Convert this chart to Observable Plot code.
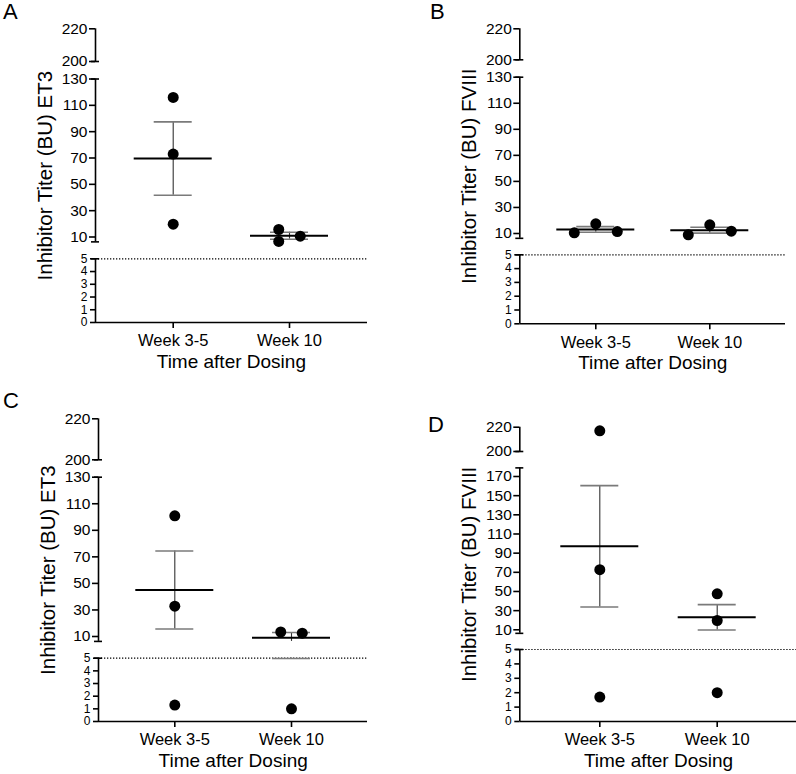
<!DOCTYPE html>
<html>
<head>
<meta charset="utf-8">
<script src="https://cdn.jsdelivr.net/npm/d3@7"></script>
<script src="https://cdn.jsdelivr.net/npm/@observablehq/plot@0.6"></script>
<style>
  body { margin: 0; background: #fff; font-family: "Liberation Sans", Arial, sans-serif; }
  #fig { position: relative; width: 796px; height: 774px; overflow: hidden; background: #fff; }
  #fig svg { position: absolute; }
  .letter { position: absolute; font-size: 22px; line-height: 1; color: #000; }
</style>
</head>
<body>
<div id="fig"></div>
<script>
// Groups on the x axis
const groups = ["Week 3-5", "Week 10"];

// Inhibitor titers (BU), one value per animal
const aEt3Wk35 = [116, 73, 19.7];
const aEt3Wk10 = [15.7, 6.6, 10.6];
const bF8Wk35 = [10.5, 17.4, 11.5];
const bF8Wk10 = [9.0, 16.7, 11.8];
const cEt3Wk35 = [100.9, 32.8, 1.3];
const cEt3Wk10 = [13.4, 12.5, 1.0];
const dF8Wk35 = [217, 72.8, 1.7];
const dF8Wk10 = [47.5, 19.7, 2.0];

// Scatter slot of each point inside its column (overlapping points side by side)
const aSlotsWk35 = [0, 0, 0];
const aSlotsWk10 = [-1, -1, 1];
const bSlotsWk35 = [-2, 0, 2];
const bSlotsWk10 = [-2, 0, 2];
const cSlotsWk35 = [0, 0, 0];
const cSlotsWk10 = [-1, 1, 0];
const dSlotsWk35 = [0, 0, 0];
const dSlotsWk10 = [0, 0, 0];

// Tick labels of the three axis segments
const ticksLow = [0, 1, 2, 3, 4, 5];
const ticksMid130 = [10, 30, 50, 70, 90, 110, 130];
const ticksMid170 = [10, 30, 50, 70, 90, 110, 130, 150, 170];
const ticksTop = [200, 220];

const xTitle = "Time after Dosing";

// Layout of each panel: page box, axis position, and pixel height of each
// broken-axis segment above the x axis
const panels = [
  { letter: "A", letterPos: [3, 1], ylabel: "Inhibitor Titer (BU) ET3",
    values: [aEt3Wk35, aEt3Wk10], slots: [aSlotsWk35, aSlotsWk10], midTicks: ticksMid130,
    box: { left: 0, top: 0, width: 398, height: 387 }, axisX: 95, rightX: 367, cat: [172.7, 289], base: 322,
    low: 63.7, mid: [85.5, 243.5], midLo: 6.3, midHi: 130, top: [261, 293.7] },
  { letter: "B", letterPos: [430, 1], ylabel: "Inhibitor Titer (BU) FVIII",
    values: [bF8Wk35, bF8Wk10], slots: [bSlotsWk35, bSlotsWk10], midTicks: ticksMid130,
    box: { left: 398, top: 0, width: 398, height: 387 }, axisX: 519.3, rightX: 785, cat: [595.3, 709.3], base: 323.3,
    low: 69, mid: [90.3, 246.6], midLo: 6.3, midHi: 130, top: [264, 295] },
  { letter: "C", letterPos: [3, 390], ylabel: "Inhibitor Titer (BU) ET3",
    values: [cEt3Wk35, cEt3Wk10], slots: [cSlotsWk35, cSlotsWk10], midTicks: ticksMid130,
    box: { left: 0, top: 387, width: 398, height: 387 }, axisX: 98, rightX: 367, cat: [174.3, 291], base: 721,
    low: 63.3, mid: [85, 244.3], midLo: 6.3, midHi: 130, top: [261.7, 302.7] },
  { letter: "D", letterPos: [428, 413.5], ylabel: "Inhibitor Titer (BU) FVIII",
    values: [dF8Wk35, dF8Wk10], slots: [dSlotsWk35, dSlotsWk10], midTicks: ticksMid170,
    box: { left: 398, top: 387, width: 398, height: 387 }, axisX: 519.3, rightX: 796, cat: [599.3, 716.7], base: 721,
    low: 72, mid: [91.7, 245], midLo: 6.3, midHi: 179, top: [270, 294.3] }
];

const slotPx = 10.75;   // horizontal step between scattered points
const meanHalf = 39;    // half width of the mean line
const capHalf = 19;     // half width of the SEM caps
const breakHalf = 4;    // half width of the marks at each axis break

const fig = document.getElementById("fig");

function drawPanel(p) {
  const [c0, c1] = p.cat;
  const unit = c1 - c0;
  const px = v => v / unit;                 // pixels -> x units
  const xa = (p.axisX - c0) / unit;         // x position of the y axis line
  const midMax = p.midTicks[p.midTicks.length - 1];
  const kMid = (p.mid[1] - p.mid[0]) / (midMax - 10);
  const kTop = (p.top[1] - p.top[0]) / 20;
  // piecewise map of a titer onto the broken axis
  const f = v => v <= 5 ? v * p.low / 5
    : v < 200 ? p.mid[0] + (v - 10) * kMid
    : p.top[0] + (v - 200) * kTop;
  const segs = [[0, 5], [p.midLo, p.midHi], [200, 220]];

  const stats = p.values.map((vals, g) => {
    const m = d3.mean(vals);
    const s = d3.deviation(vals) / Math.sqrt(vals.length);
    return { g, m, lo: m - s, hi: m + s };
  });
  // SEM whiskers are only drawn inside the axis segments
  const pieces = stats.flatMap(s => segs
    .map(([a, b]) => ({ g: s.g, a: Math.max(s.lo, a), b: Math.min(s.hi, b) }))
    .filter(d => d.a < d.b));
  const ends = stats.flatMap(s => [{ g: s.g, v: s.lo }, { g: s.g, v: s.hi }]);
  const points = p.values.flatMap((vals, g) => vals.map((v, i) => ({ g, v, slot: p.slots[g][i] })));

  const labelOf = new Map([...ticksLow, ...p.midTicks, ...ticksTop].map(v => [f(v), String(v)]));
  const fmt = d => labelOf.get(d);

  const chart = Plot.plot({
    width: p.box.width,
    height: p.box.height,
    marginLeft: p.axisX - p.box.left,
    marginRight: p.box.left + p.box.width - p.rightX,
    marginTop: p.base - p.top[1] - p.box.top,
    marginBottom: p.box.top + p.box.height - p.base,
    x: { type: "linear", domain: [0, 1], range: [c0 - p.box.left, c1 - p.box.left] },
    y: { type: "linear", domain: [0, p.top[1]] },
    style: { fontFamily: "'Liberation Sans', Arial, sans-serif", color: "#000", background: "transparent", overflow: "visible" },
    marks: [
      // detection limit
      Plot.ruleY([f(5)], { stroke: "#000", strokeWidth: 1.2, strokeDasharray: "1.3,1.7" }),
      // x axis line
      Plot.ruleY([0], { stroke: "#000", strokeWidth: 1.6 }),
      // y axis line, one piece per segment
      Plot.ruleX(segs, { x: () => xa, y1: d => f(d[0]), y2: d => f(d[1]), stroke: "#000", strokeWidth: 1.6 }),
      // marks at the breaks
      Plot.ruleY([5, p.midLo, p.midHi, 200], { y: d => f(d), x1: xa - px(breakHalf), x2: xa + px(breakHalf), stroke: "#000", strokeWidth: 1.6 }),
      Plot.axisY({ ticks: ticksLow.map(f), tickFormat: fmt, fontSize: 12, tickSize: 5, tickPadding: 3, stroke: "#000", strokeWidth: 1.6, label: null }),
      Plot.axisY({ ticks: [...p.midTicks, ...ticksTop].map(f), tickFormat: fmt, fontSize: 15.5, tickSize: 6, tickPadding: 2, stroke: "#000", strokeWidth: 1.6, label: null }),
      Plot.axisX({ ticks: [0, 1], tickFormat: i => groups[i], fontSize: 16.5, tickSize: 6, tickPadding: 6, stroke: "#000", strokeWidth: 1.6, label: null }),
      Plot.text([p.ylabel], { text: d => d, frameAnchor: "left", textAnchor: "middle", dx: -50, rotate: -90, fontSize: 20.5, fill: "#000" }),
      Plot.text([xTitle], { text: d => d, x: () => 0.5, frameAnchor: "bottom", dy: 45.5, fontSize: 19, fill: "#000" }),
      // mean ± SEM
      Plot.ruleX(pieces, { x: d => d.g, y1: d => f(d.a), y2: d => f(d.b), stroke: "#333", strokeWidth: 1.1 }),
      Plot.ruleY(ends, { y: d => f(d.v), x1: d => d.g - px(capHalf), x2: d => d.g + px(capHalf), stroke: "#7a7a7a", strokeWidth: 1.6 }),
      Plot.ruleY(stats, { y: d => f(d.m), x1: d => d.g - px(meanHalf), x2: d => d.g + px(meanHalf), stroke: "#000", strokeWidth: 2 }),
      // individual animals
      Plot.dot(points, { x: d => d.g + px(d.slot * slotPx), y: d => f(d.v), r: 5.5, fill: "#000", stroke: "none" })
    ]
  });
  chart.style.left = p.box.left + "px";
  chart.style.top = p.box.top + "px";
  fig.appendChild(chart);

  const letter = document.createElement("div");
  letter.className = "letter";
  letter.textContent = p.letter;
  letter.style.left = p.letterPos[0] + "px";
  letter.style.top = p.letterPos[1] + "px";
  fig.appendChild(letter);
}

panels.forEach(drawPanel);
</script>
</body>
</html>
